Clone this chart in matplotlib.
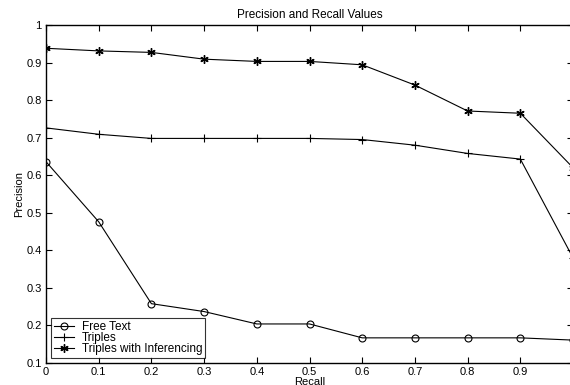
import matplotlib.pyplot as plt

plt.rcParams['font.family'] = ['Liberation Sans', 'DejaVu Sans']

# recall levels
recall = [0, 0.1, 0.2, 0.3, 0.4, 0.5, 0.6, 0.7, 0.8, 0.9, 1.0]

# precision values
free_text = [0.636, 0.476, 0.258, 0.237, 0.204, 0.204, 0.167, 0.167, 0.167, 0.167, 0.161]
triples = [0.726, 0.709, 0.698, 0.698, 0.698, 0.698, 0.695, 0.680, 0.658, 0.643, 0.380]
triples_inf = [0.938, 0.931, 0.927, 0.909, 0.903, 0.903, 0.894, 0.840, 0.771, 0.765, 0.620]

xticks = [0, 0.1, 0.2, 0.3, 0.4, 0.5, 0.6, 0.7, 0.8, 0.9]
yticks = [0.1, 0.2, 0.3, 0.4, 0.5, 0.6, 0.7, 0.8, 0.9, 1]

fig = plt.figure(figsize=(5.7, 3.85), dpi=100)
ax = fig.add_axes([0.0807, 0.0571, 0.9246, 0.878])

ax.plot(recall, free_text, color="black", lw=0.8, marker="o",
        markersize=5, markerfacecolor="none", markeredgewidth=0.8, label="Free Text")
ax.plot(recall, triples, color="black", lw=0.8, marker="+",
        markersize=6, markeredgewidth=0.8, label="Triples")
ax.plot(recall, triples_inf, color="black", lw=0.8, marker=(6, 2, 0),
        markersize=6, markeredgewidth=1.0, label="Triples with Inferencing")

ax.set_xlim(0, 1)
ax.set_ylim(0.1, 1)
ax.set_xticks(xticks)
ax.set_xticklabels(["0", "0.1", "0.2", "0.3", "0.4", "0.5", "0.6", "0.7", "0.8", "0.9"])
ax.set_yticks(yticks)
ax.set_yticklabels(["0.1", "0.2", "0.3", "0.4", "0.5", "0.6", "0.7", "0.8", "0.9", "1"])
ax.tick_params(direction="in", top=True, right=True, length=4, width=0.8,
               labelsize=8, pad=3)
for s in ax.spines.values():
    s.set_linewidth(1.0)

ax.set_title("Precision and Recall Values", fontsize=8.5, pad=5)
ax.set_xlabel("Recall", fontsize=8, labelpad=0)
ax.set_ylabel("Precision", fontsize=8, labelpad=2)

leg = ax.legend(loc="lower left", fontsize=8.5, frameon=True, fancybox=False,
                edgecolor="black", borderpad=0.25, labelspacing=-0.08,
                handlelength=1.7, handletextpad=0.65, borderaxespad=0.45)
leg.get_frame().set_linewidth(0.8)

fig.savefig("out.png", dpi=100)
